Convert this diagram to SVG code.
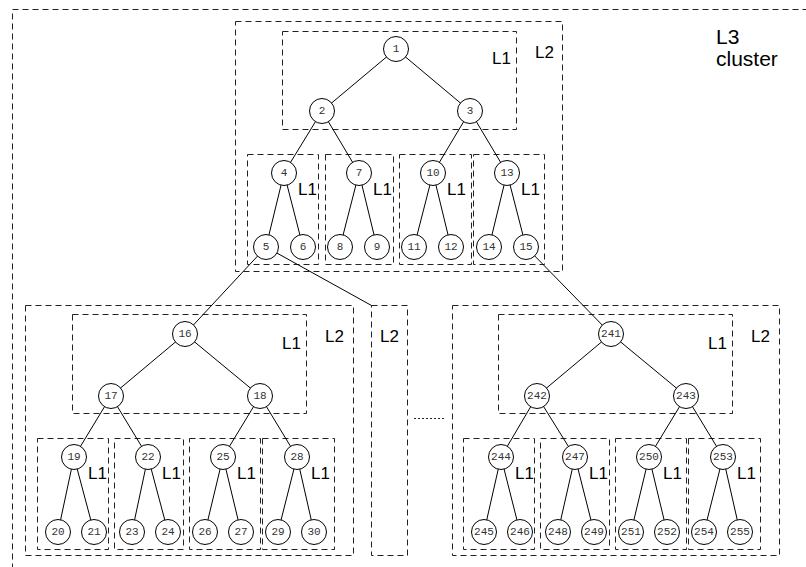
<svg xmlns="http://www.w3.org/2000/svg" width="806" height="567" viewBox="0 0 806 567">
<style>
.box{fill:none;stroke:#222;stroke-width:1;stroke-dasharray:6,4}
.lbl{font-family:"Liberation Sans",Arial,sans-serif;font-size:17px;fill:#000}
.big{font-family:"Liberation Sans",Arial,sans-serif;font-size:21px;fill:#000}
.n circle{fill:#fff;stroke:#000;stroke-width:1}
.n text{font-family:"Liberation Mono","DejaVu Sans Mono",monospace;font-size:11px;fill:#333;text-anchor:middle;dominant-baseline:central}
.e line{stroke:#000;stroke-width:1}
</style>
<rect width="806" height="567" fill="#fff"/>
<g id="clusters">
<rect class="box" x="12.5" y="9.5" width="800" height="570"/>
<rect class="box" x="235.5" y="21.5" width="327" height="250"/>
<rect class="box" x="282.5" y="31.5" width="234" height="98"/>
<rect class="box" x="247.5" y="154.5" width="71" height="110"/>
<rect class="box" x="325.5" y="154.5" width="68" height="110"/>
<rect class="box" x="399.5" y="154.5" width="72" height="110"/>
<rect class="box" x="473.5" y="154.5" width="71" height="110"/>
<rect class="box" x="25.5" y="305.5" width="328" height="250"/>
<rect class="box" x="72.5" y="314.5" width="234" height="99"/>
<rect class="box" x="37.5" y="438.5" width="71" height="111"/>
<rect class="box" x="114.5" y="438.5" width="69" height="111"/>
<rect class="box" x="189.5" y="438.5" width="71" height="111"/>
<rect class="box" x="262.5" y="438.5" width="72" height="111"/>
<rect class="box" x="371.5" y="305.5" width="36" height="250"/>
<rect class="box" x="452.5" y="305.5" width="327" height="250"/>
<rect class="box" x="498.5" y="314.5" width="234" height="99"/>
<rect class="box" x="463.5" y="438.5" width="71" height="111"/>
<rect class="box" x="540.5" y="438.5" width="69" height="111"/>
<rect class="box" x="615.5" y="438.5" width="71" height="111"/>
<rect class="box" x="688.5" y="438.5" width="72" height="111"/>
<line x1="414" y1="418.5" x2="444" y2="418.5" stroke="#222" stroke-dasharray="2,2"/>
</g>
<g id="labels">
<text class="big" x="716" y="44">L3</text>
<text class="big" x="716" y="66">cluster</text>
<text class="lbl" x="492" y="64">L1</text>
<text class="lbl" x="535" y="58">L2</text>
<text class="lbl" x="298" y="195">L1</text>
<text class="lbl" x="373" y="195">L1</text>
<text class="lbl" x="447" y="195">L1</text>
<text class="lbl" x="521" y="195">L1</text>
<text class="lbl" x="282" y="349">L1</text>
<text class="lbl" x="325" y="342">L2</text>
<text class="lbl" x="380" y="342">L2</text>
<text class="lbl" x="88" y="479">L1</text>
<text class="lbl" x="162" y="479">L1</text>
<text class="lbl" x="237" y="479">L1</text>
<text class="lbl" x="311" y="479">L1</text>
<text class="lbl" x="708" y="349">L1</text>
<text class="lbl" x="751" y="342">L2</text>
<text class="lbl" x="515" y="479">L1</text>
<text class="lbl" x="589" y="479">L1</text>
<text class="lbl" x="663" y="479">L1</text>
<text class="lbl" x="737" y="479">L1</text>
</g>
<g id="connectors" class="e">
<line x1="396" y1="49" x2="322" y2="111"/>
<line x1="396" y1="49" x2="470" y2="111"/>
<line x1="322" y1="111" x2="284" y2="173"/>
<line x1="322" y1="111" x2="359" y2="173"/>
<line x1="470" y1="111" x2="433" y2="173"/>
<line x1="470" y1="111" x2="507" y2="173"/>
<line x1="284" y1="173" x2="266" y2="247"/>
<line x1="284" y1="173" x2="303" y2="247"/>
<line x1="359" y1="173" x2="340" y2="247"/>
<line x1="359" y1="173" x2="377" y2="247"/>
<line x1="433" y1="173" x2="414" y2="247"/>
<line x1="433" y1="173" x2="451" y2="247"/>
<line x1="507" y1="173" x2="489" y2="247"/>
<line x1="507" y1="173" x2="526" y2="247"/>
<line x1="266" y1="247" x2="185" y2="334"/>
<line x1="266" y1="247" x2="371.5" y2="305.5"/>
<line x1="526" y1="247" x2="611" y2="334"/>
<line x1="185" y1="334" x2="111" y2="396"/>
<line x1="185" y1="334" x2="260" y2="396"/>
<line x1="111" y1="396" x2="74" y2="457"/>
<line x1="111" y1="396" x2="148" y2="457"/>
<line x1="260" y1="396" x2="223" y2="457"/>
<line x1="260" y1="396" x2="297" y2="457"/>
<line x1="74" y1="457" x2="58" y2="532"/>
<line x1="74" y1="457" x2="94" y2="532"/>
<line x1="148" y1="457" x2="132" y2="532"/>
<line x1="148" y1="457" x2="168" y2="532"/>
<line x1="223" y1="457" x2="205" y2="532"/>
<line x1="223" y1="457" x2="241" y2="532"/>
<line x1="297" y1="457" x2="278" y2="532"/>
<line x1="297" y1="457" x2="314" y2="532"/>
<line x1="611" y1="334" x2="537" y2="396"/>
<line x1="611" y1="334" x2="686" y2="396"/>
<line x1="537" y1="396" x2="501" y2="457"/>
<line x1="537" y1="396" x2="575" y2="457"/>
<line x1="686" y1="396" x2="649" y2="457"/>
<line x1="686" y1="396" x2="723" y2="457"/>
<line x1="501" y1="457" x2="484" y2="532"/>
<line x1="501" y1="457" x2="520" y2="532"/>
<line x1="575" y1="457" x2="558" y2="532"/>
<line x1="575" y1="457" x2="594" y2="532"/>
<line x1="649" y1="457" x2="631" y2="532"/>
<line x1="649" y1="457" x2="667" y2="532"/>
<line x1="723" y1="457" x2="704" y2="532"/>
<line x1="723" y1="457" x2="740" y2="532"/>
</g>
<g id="n1" class="n"><circle cx="396" cy="49" r="12.5"/><text x="396" y="49">1</text></g>
<g id="n2" class="n"><circle cx="322" cy="111" r="12.5"/><text x="322" y="111">2</text></g>
<g id="n3" class="n"><circle cx="470" cy="111" r="12.5"/><text x="470" y="111">3</text></g>
<g id="n4" class="n"><circle cx="284" cy="173" r="12.5"/><text x="284" y="173">4</text></g>
<g id="n7" class="n"><circle cx="359" cy="173" r="12.5"/><text x="359" y="173">7</text></g>
<g id="n10" class="n"><circle cx="433" cy="173" r="12.5"/><text x="433" y="173">10</text></g>
<g id="n13" class="n"><circle cx="507" cy="173" r="12.5"/><text x="507" y="173">13</text></g>
<g id="n5" class="n"><circle cx="266" cy="247" r="12.5"/><text x="266" y="247">5</text></g>
<g id="n6" class="n"><circle cx="303" cy="247" r="12.5"/><text x="303" y="247">6</text></g>
<g id="n8" class="n"><circle cx="340" cy="247" r="12.5"/><text x="340" y="247">8</text></g>
<g id="n9" class="n"><circle cx="377" cy="247" r="12.5"/><text x="377" y="247">9</text></g>
<g id="n11" class="n"><circle cx="414" cy="247" r="12.5"/><text x="414" y="247">11</text></g>
<g id="n12" class="n"><circle cx="451" cy="247" r="12.5"/><text x="451" y="247">12</text></g>
<g id="n14" class="n"><circle cx="489" cy="247" r="12.5"/><text x="489" y="247">14</text></g>
<g id="n15" class="n"><circle cx="526" cy="247" r="12.5"/><text x="526" y="247">15</text></g>
<g id="n16" class="n"><circle cx="185" cy="334" r="12.5"/><text x="185" y="334">16</text></g>
<g id="n17" class="n"><circle cx="111" cy="396" r="12.5"/><text x="111" y="396">17</text></g>
<g id="n18" class="n"><circle cx="260" cy="396" r="12.5"/><text x="260" y="396">18</text></g>
<g id="n19" class="n"><circle cx="74" cy="457" r="12.5"/><text x="74" y="457">19</text></g>
<g id="n22" class="n"><circle cx="148" cy="457" r="12.5"/><text x="148" y="457">22</text></g>
<g id="n25" class="n"><circle cx="223" cy="457" r="12.5"/><text x="223" y="457">25</text></g>
<g id="n28" class="n"><circle cx="297" cy="457" r="12.5"/><text x="297" y="457">28</text></g>
<g id="n20" class="n"><circle cx="58" cy="532" r="12.5"/><text x="58" y="532">20</text></g>
<g id="n21" class="n"><circle cx="94" cy="532" r="12.5"/><text x="94" y="532">21</text></g>
<g id="n23" class="n"><circle cx="132" cy="532" r="12.5"/><text x="132" y="532">23</text></g>
<g id="n24" class="n"><circle cx="168" cy="532" r="12.5"/><text x="168" y="532">24</text></g>
<g id="n26" class="n"><circle cx="205" cy="532" r="12.5"/><text x="205" y="532">26</text></g>
<g id="n27" class="n"><circle cx="241" cy="532" r="12.5"/><text x="241" y="532">27</text></g>
<g id="n29" class="n"><circle cx="278" cy="532" r="12.5"/><text x="278" y="532">29</text></g>
<g id="n30" class="n"><circle cx="314" cy="532" r="12.5"/><text x="314" y="532">30</text></g>
<g id="n241" class="n"><circle cx="611" cy="334" r="12.5"/><text x="611" y="334">241</text></g>
<g id="n242" class="n"><circle cx="537" cy="396" r="12.5"/><text x="537" y="396">242</text></g>
<g id="n243" class="n"><circle cx="686" cy="396" r="12.5"/><text x="686" y="396">243</text></g>
<g id="n244" class="n"><circle cx="501" cy="457" r="12.5"/><text x="501" y="457">244</text></g>
<g id="n247" class="n"><circle cx="575" cy="457" r="12.5"/><text x="575" y="457">247</text></g>
<g id="n250" class="n"><circle cx="649" cy="457" r="12.5"/><text x="649" y="457">250</text></g>
<g id="n253" class="n"><circle cx="723" cy="457" r="12.5"/><text x="723" y="457">253</text></g>
<g id="n245" class="n"><circle cx="484" cy="532" r="12.5"/><text x="484" y="532">245</text></g>
<g id="n246" class="n"><circle cx="520" cy="532" r="12.5"/><text x="520" y="532">246</text></g>
<g id="n248" class="n"><circle cx="558" cy="532" r="12.5"/><text x="558" y="532">248</text></g>
<g id="n249" class="n"><circle cx="594" cy="532" r="12.5"/><text x="594" y="532">249</text></g>
<g id="n251" class="n"><circle cx="631" cy="532" r="12.5"/><text x="631" y="532">251</text></g>
<g id="n252" class="n"><circle cx="667" cy="532" r="12.5"/><text x="667" y="532">252</text></g>
<g id="n254" class="n"><circle cx="704" cy="532" r="12.5"/><text x="704" y="532">254</text></g>
<g id="n255" class="n"><circle cx="740" cy="532" r="12.5"/><text x="740" y="532">255</text></g>
</svg>
